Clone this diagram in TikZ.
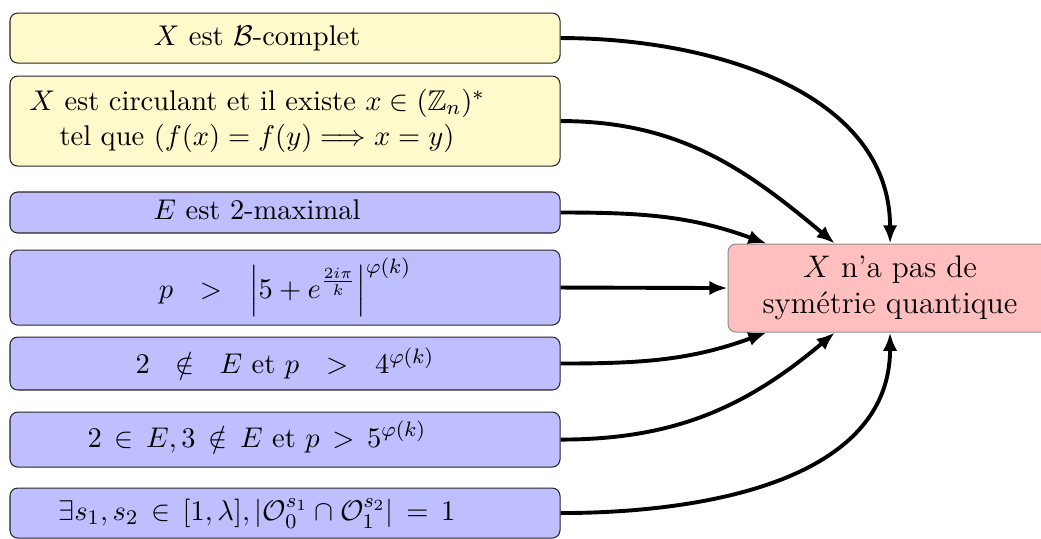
\documentclass[tikz,border=0pt,11pt]{standalone}
\usepackage{amsmath,amssymb}
\usepackage{tikz}
\usetikzlibrary{calc,positioning,arrows.meta}
\definecolor{hypYellow}{HTML}{FFFACC}
\definecolor{hypBlue}{HTML}{BFBFFF}
\definecolor{resRed}{HTML}{FFBFBF}
% text set a little left of the box centre
\newcommand{\hyptext}[1]{\begin{tabular}{@{}c@{}}#1\end{tabular}\hspace*{0.757cm}}

\begin{document}
\begin{tikzpicture}[
  cond/.style={
    rectangle, rounded corners=3pt, draw=black!85, fill=#1,
    minimum width=7.434cm, inner xsep=3pt, inner ysep=1pt, line width=0.4pt
  },
  result/.style={
    rectangle, rounded corners=3pt, draw=black!45, fill=resRed,
    minimum width=4.38cm, minimum height=1.189cm, align=center,
    font=\large, line width=0.4pt
  },
  imp/.style={-{Latex[length=7pt,width=5.5pt]}, line width=1.5pt, black},
]

\useasboundingbox (0,0) rectangle (14.07,-7.272);

% === Hypotheses (left column) ===
\node[cond=hypYellow, minimum height=0.676cm] (complet) at (3.852,-0.514) {\hyptext{$X$ est $\mathcal{B}$-complet}};
\node[cond=hypYellow, minimum height=1.217cm] (circ) at (3.852,-1.636)
  {\hyptext{$X$ est circulant et il existe $x \in (\mathbb{Z}_n)^*$\\ tel que $(f(x)=f(y) \Longrightarrow x=y)$}};
\node[cond=hypBlue, minimum height=0.554cm] (maxi) at (3.852,-2.872) {\hyptext{$E$ est 2-maximal}};
\node[cond=hypBlue, minimum height=1.014cm] (borne) at (3.852,-3.886)
  {$p\ \ >\ \ \left|5+e^{\frac{2i\pi}{k}}\right|^{\varphi(k)}$};
\node[cond=hypBlue, minimum height=0.716cm] (deuxE) at (3.852,-4.913)
  {$2\ \;\notin\ \;E$ et $p\ \ >\ \ 4^{\varphi(k)}$};
\node[cond=hypBlue, minimum height=0.743cm] (troisE) at (3.852,-5.941)
  {\hyptext{$2 \,\in\, E, 3 \,\notin\, E$ et $p \,>\, 5^{\varphi(k)}$}};
\node[cond=hypBlue, minimum height=0.676cm] (orbite) at (3.852,-6.934)
  {\hyptext{$\exists s_1, s_2 \,\in\, [1,\lambda], |\mathcal{O}_0^{s_1} \cap \mathcal{O}_1^{s_2}| \,=\, 1$}};

% === Conclusion ===
\node[result] (nosym) at (12.03,-3.893) {$X$ n'a pas de\\ sym\'etrie quantique};

% Coordinates on the top and bottom sides
\coordinate (nA) at ($(nosym.north west)!0.12!(nosym.north east)$);
\coordinate (nB) at ($(nosym.north west)!0.33!(nosym.north east)$);
\coordinate (sA) at ($(nosym.south west)!0.12!(nosym.south east)$);
\coordinate (sB) at ($(nosym.south west)!0.33!(nosym.south east)$);

% === Implications ===
\draw[imp] (complet.east) to[out=0, in=90] (nosym.north);
\draw[imp] (circ.east) to[out=0, in=140] (nB);
\draw[imp] (maxi.east) to[out=0, in=160] (nA);
\draw[imp] (borne.east) -- (nosym.west);
\draw[imp] (deuxE.east) to[out=0, in=200] (sA);
\draw[imp] (troisE.east) to[out=0, in=220] (sB);
\draw[imp] (orbite.east) to[out=0, in=270] (nosym.south);

\end{tikzpicture}
\end{document}
